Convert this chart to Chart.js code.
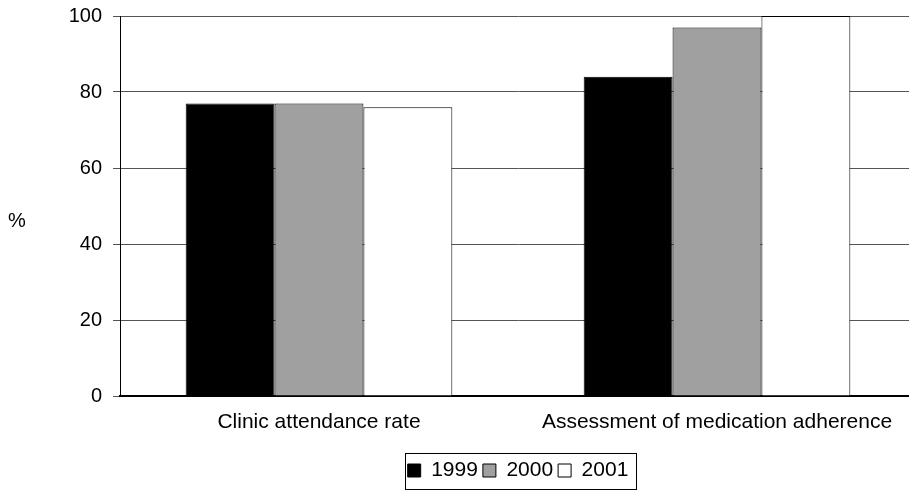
<!DOCTYPE html>
<html>
<head>
<meta charset="utf-8">
<script src="https://cdn.jsdelivr.net/npm/chart.js@4/dist/chart.umd.min.js"></script>
<style>
  html, body { margin: 0; padding: 0; background: #fff; overflow: hidden; }
  #wrap { width: 909px; height: 491px; overflow: hidden; position: relative; }
  #chart { display: block; }
</style>
</head>
<body>
<div id="wrap"><canvas id="chart" width="942" height="491"></canvas></div>
<script>
// data
const categories = ['Clinic attendance rate', 'Assessment of medication adherence'];
const years = ['1999', '2000', '2001'];
const values1999 = [77, 84];
const values2000 = [77, 97];
const values2001 = [76, 100];
const yTicks = [0, 20, 40, 60, 80, 100];

const fills = ['#000000', '#a0a0a0', '#ffffff'];
const FONT = 'Liberation Sans, Arial, sans-serif';

// "%" sits to the left of the y axis, unrotated; legend gets a frame
const extras = {
  id: 'extras',
  afterDraw(chart) {
    const ctx = chart.ctx;
    const area = chart.chartArea;
    ctx.save();
    ctx.fillStyle = '#000';
    ctx.font = '20px ' + FONT;
    ctx.textAlign = 'center';
    ctx.textBaseline = 'middle';
    ctx.fillText('%', 17, area.top + (area.bottom - area.top) * 0.54);

    const boxes = chart.legend.legendHitBoxes;
    if (boxes && boxes.length) {
      let l = Infinity, r = -Infinity, t = Infinity, b = -Infinity;
      boxes.forEach(h => {
        l = Math.min(l, h.left); r = Math.max(r, h.left + h.width);
        t = Math.min(t, h.top); b = Math.max(b, h.top + h.height);
      });
      ctx.strokeStyle = '#000';
      ctx.lineWidth = 1;
      ctx.strokeRect(Math.round(l - 3) + 0.5, Math.round(t - 7) + 0.5, Math.round(r - l + 10), Math.round(b - t + 15));
    }
    ctx.restore();
  }
};

const datasets = [values1999, values2000, values2001].map((vals, i) => ({
  label: years[i],
  data: vals,
  backgroundColor: fills[i],
  borderColor: '#000',
  borderWidth: 1,
  barPercentage: 1,
  categoryPercentage: 0.67
}));

new Chart(document.getElementById('chart'), {
  type: 'bar',
  data: { labels: categories, datasets: datasets },
  options: {
    responsive: false,
    animation: false,
    layout: { padding: { top: 16, right: 26, left: 0, bottom: 0 } },
    plugins: {
      tooltip: { enabled: false },
      legend: {
        position: 'bottom',
        fullSize: false,
        labels: {
          color: '#000',
          font: { family: FONT, size: 21 },
          boxWidth: 13,
          boxHeight: 13,
          padding: 5
        }
      }
    },
    scales: {
      x: {
        grid: { display: false, drawTicks: false },
        border: { color: '#000', width: 2 },
        ticks: { color: '#000', font: { family: FONT, size: 21 }, padding: 14, maxRotation: 0 },
        afterFit(scale) { scale.height = 59; }
      },
      y: {
        min: 0,
        max: 100,
        afterBuildTicks(scale) { scale.ticks = yTicks.map(v => ({ value: v })); },
        grid: { color: '#555', lineWidth: 1, tickLength: 7 },
        border: { color: '#000', width: 1 },
        ticks: { color: '#000', font: { family: FONT, size: 20, lineHeight: 0.4 }, padding: 11 },
        afterFit(scale) { scale.width = 120; }
      }
    }
  },
  plugins: [extras]
});
</script>
</body>
</html>
